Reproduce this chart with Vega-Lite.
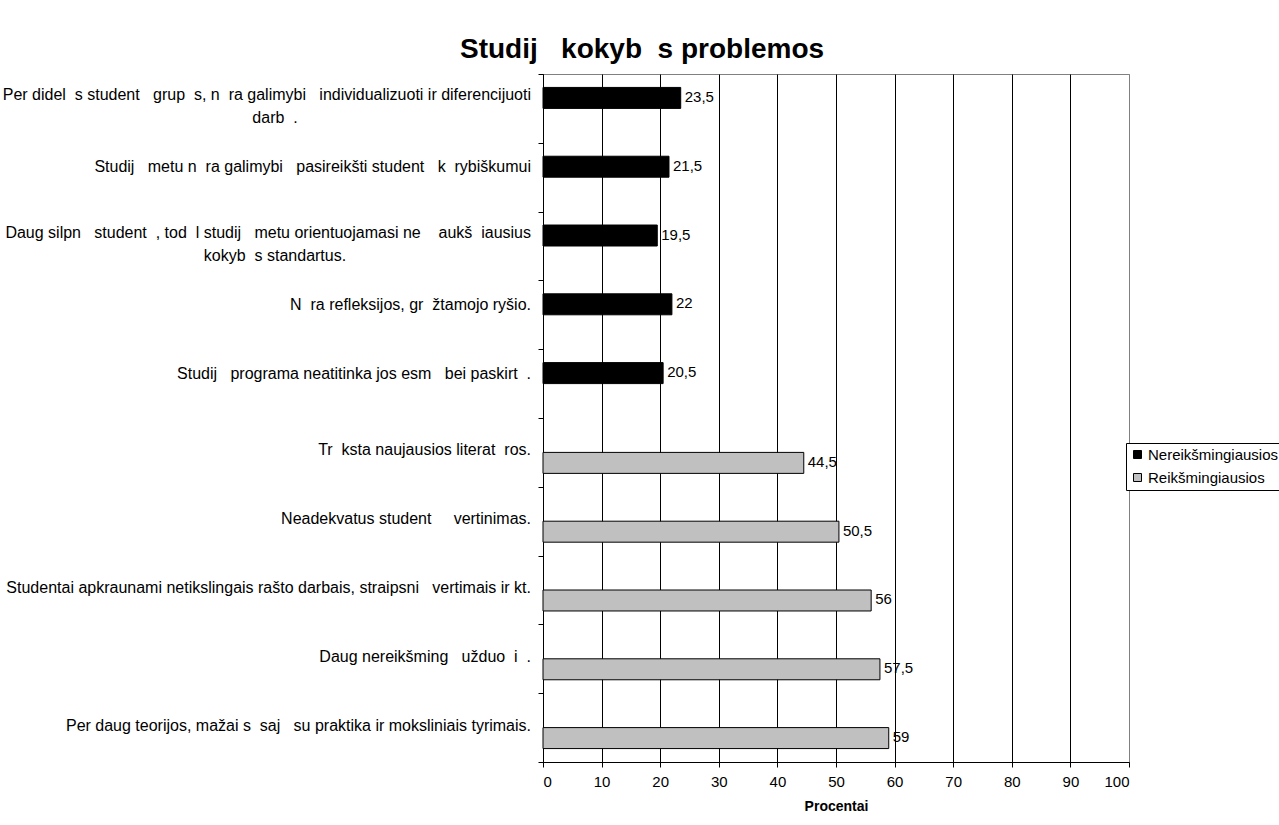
{
  "$schema": "https://vega.github.io/schema/vega-lite/v6.json",
  "autosize": "none",
  "padding": {"left": 543, "top": 74, "right": 150, "bottom": 63},
  "width": 586,
  "height": 688,
  "background": "white",
  "title": {
    "text": "Studij\u00a0\u00a0\u00a0kokyb\u00a0\u00a0s problemos",
    "font": "Liberation Sans",
    "fontSize": 28,
    "fontWeight": "bold",
    "color": "black",
    "anchor": "start",
    "frame": "group",
    "dx": -83,
    "offset": 10
  },
  "data": {
    "values": [
      {"problema": "Per didel\u00a0\u00a0s student\u00a0\u00a0\u00a0grup\u00a0\u00a0s, n\u00a0\u00a0ra galimybi\u00a0\u00a0\u00a0individualizuoti ir diferencijuoti", "eilute2": "darb\u00a0\u00a0.", "grupe": "Nereikšmingiausios", "reiksme": 23.5},
      {"problema": "Studij\u00a0\u00a0\u00a0metu n\u00a0\u00a0ra galimybi\u00a0\u00a0\u00a0pasireikšti student\u00a0\u00a0\u00a0k\u00a0\u00a0rybiškumui", "eilute2": "", "grupe": "Nereikšmingiausios", "reiksme": 21.5},
      {"problema": "Daug silpn\u00a0\u00a0\u00a0student\u00a0\u00a0, tod\u00a0\u00a0l studij\u00a0\u00a0\u00a0metu orientuojamasi ne\u00a0\u00a0\u00a0\u00a0aukš\u00a0\u00a0iausius", "eilute2": "kokyb\u00a0\u00a0s standartus.", "grupe": "Nereikšmingiausios", "reiksme": 19.5},
      {"problema": "N\u00a0\u00a0ra refleksijos, gr\u00a0\u00a0žtamojo ryšio.", "eilute2": "", "grupe": "Nereikšmingiausios", "reiksme": 22},
      {"problema": "Studij\u00a0\u00a0\u00a0programa neatitinka jos esm\u00a0\u00a0\u00a0bei paskirt\u00a0\u00a0.", "eilute2": "", "grupe": "Nereikšmingiausios", "reiksme": 20.5},
      {"problema": "Tr\u00a0\u00a0ksta naujausios literat\u00a0\u00a0ros.", "eilute2": "", "grupe": "Reikšmingiausios", "reiksme": 44.5},
      {"problema": "Neadekvatus student\u00a0\u00a0\u00a0\u00a0\u00a0vertinimas.", "eilute2": "", "grupe": "Reikšmingiausios", "reiksme": 50.5},
      {"problema": "Studentai apkraunami netikslingais rašto darbais, straipsni\u00a0\u00a0\u00a0vertimais ir kt.", "eilute2": "", "grupe": "Reikšmingiausios", "reiksme": 56},
      {"problema": "Daug nereikšming\u00a0\u00a0\u00a0užduo\u00a0\u00a0i\u00a0\u00a0.", "eilute2": "", "grupe": "Reikšmingiausios", "reiksme": 57.5},
      {"problema": "Per daug teorijos, mažai s\u00a0\u00a0saj\u00a0\u00a0\u00a0su praktika ir moksliniais tyrimais.", "eilute2": "", "grupe": "Reikšmingiausios", "reiksme": 59}
    ]
  },
  "encoding": {
    "y": {
      "field": "problema",
      "type": "nominal",
      "sort": null,
      "scale": {"paddingInner": 0, "paddingOuter": 0},
      "axis": {
        "labels": false,
        "title": null,
        "grid": false,
        "tickBand": "extent",
        "domainColor": "black",
        "tickColor": "black",
        "tickSize": 5,
        "domainWidth": 1,
        "tickWidth": 1
      }
    }
  },
  "layer": [
    {
      "mark": {"type": "bar", "stroke": "black", "strokeWidth": 1},
      "encoding": {
        "yOffset": {"field": "grupe", "type": "nominal", "scale": {"paddingInner": 0, "paddingOuter": 0.64}},
        "x": {
          "field": "reiksme",
          "type": "quantitative",
          "scale": {"domain": [0, 100], "nice": false},
          "axis": {
            "title": "Procentai",
            "titleFont": "Liberation Sans",
            "titleFontSize": 14,
            "titleFontWeight": "bold",
            "titleColor": "black",
            "titlePadding": 10,
            "values": [0, 10, 20, 30, 40, 50, 60, 70, 80, 90, 100],
            "format": "d",
            "grid": true,
            "gridColor": {"condition": {"test": "datum.value == 100", "value": "#808080"}, "value": "black"},
            "gridOpacity": 1,
            "gridWidth": 1,
            "domainColor": "black",
            "tickColor": "black",
            "tickSize": 5,
            "labelFont": "Liberation Sans",
            "labelFontSize": 15,
            "labelColor": "black",
            "labelPadding": 7
          }
        },
        "color": {
          "field": "grupe",
          "type": "nominal",
          "scale": {"domain": ["Nereikšmingiausios", "Reikšmingiausios"], "range": ["#000000", "#C0C0C0"]},
          "legend": {
            "orient": "none",
            "legendX": 583,
            "legendY": 369,
            "title": null,
            "fillColor": "white",
            "strokeColor": "black",
            "padding": 4,
            "rowPadding": 7,
            "symbolType": "square",
            "symbolSize": 64,
            "symbolStrokeColor": "black",
            "symbolStrokeWidth": 1,
            "labelFont": "Liberation Sans",
            "labelFontSize": 15,
            "labelColor": "black",
            "labelOffset": 3
          }
        }
      }
    },
    {
      "mark": {"type": "text", "align": "left", "baseline": "middle", "dx": 4, "dy": -1, "font": "Liberation Sans", "fontSize": 15, "color": "black"},
      "encoding": {
        "yOffset": {"field": "grupe", "type": "nominal", "scale": {"paddingInner": 0, "paddingOuter": 0.64}},
        "x": {"field": "reiksme", "type": "quantitative"},
        "text": {"field": "reiksme", "type": "quantitative", "format": "~f"}
      }
    },
    {
      "transform": [{"filter": "datum.grupe == 'Nereikšmingiausios' && datum.eilute2 == ''"}],
      "mark": {"type": "text", "align": "right", "baseline": "middle", "dx": -12, "dy": -10, "font": "Liberation Sans", "fontSize": 16, "color": "black"},
      "encoding": {
        "x": {"datum": 0},
        "text": {"field": "problema"}
      }
    },
    {
      "transform": [{"filter": "datum.grupe == 'Reikšmingiausios'"}],
      "mark": {"type": "text", "align": "right", "baseline": "middle", "dx": -12, "dy": -2, "font": "Liberation Sans", "fontSize": 16, "color": "black"},
      "encoding": {
        "x": {"datum": 0},
        "text": {"field": "problema"}
      }
    },
    {
      "transform": [{"filter": "datum.eilute2 != ''"}],
      "mark": {"type": "text", "align": "right", "baseline": "middle", "dx": -12, "dy": -13, "font": "Liberation Sans", "fontSize": 16, "color": "black"},
      "encoding": {
        "x": {"datum": 0},
        "text": {"field": "problema"}
      }
    },
    {
      "transform": [{"filter": "datum.eilute2 != ''"}],
      "mark": {"type": "text", "align": "center", "baseline": "middle", "dx": -268, "dy": 10, "font": "Liberation Sans", "fontSize": 16, "color": "black"},
      "encoding": {
        "x": {"datum": 0},
        "text": {"field": "eilute2"}
      }
    }
  ],
  "config": {
    "locale": {"number": {"decimal": ",", "thousands": " ", "grouping": [3], "currency": ["", ""]}},
    "view": {"stroke": "#808080", "strokeWidth": 1},
    "font": "Liberation Sans"
  }
}
